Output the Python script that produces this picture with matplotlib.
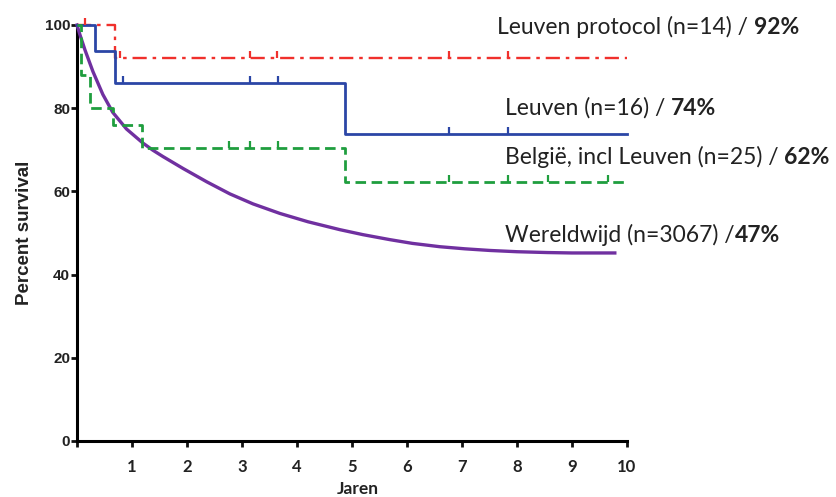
import numpy as np
import matplotlib
matplotlib.use("Agg")
import matplotlib.pyplot as plt

# Kaplan-Meier steps (years, % survival)
red_t = [0, 0.69, 10.0]
red_s = [100, 92, 92]
red_cens = [0.15, 0.78, 3.15, 3.64, 6.76, 7.84]

blue_t = [0, 0.33, 0.69, 4.87, 10.0]
blue_s = [100, 93.8, 86, 73.8, 73.8]
blue_cens = [0.84, 3.15, 3.65, 6.76, 7.84]

green_t = [0, 0.07, 0.24, 0.66, 1.18, 4.87, 10.0]
green_s = [100, 88, 80, 76, 70.5, 62.3, 62.3]
green_cens = [2.77, 3.15, 3.65, 6.76, 7.84, 8.57, 9.66]

# worldwide curve
purple_t = [0, 0.05, 0.145, 0.29, 0.47, 0.65, 0.9, 1.2, 1.38, 1.56, 1.93, 2.36, 2.78,
            3.2, 3.69, 4.2, 4.78, 5.2, 5.69, 6.1, 6.6, 7.05, 7.51, 8.0, 8.55, 9.0, 9.78]
purple_s = [100, 97.8, 94.0, 88.8, 83.3, 79.0, 75.0, 71.6, 69.9, 68.4, 65.5, 62.3, 59.4,
            57.0, 54.7, 52.7, 50.8, 49.6, 48.4, 47.5, 46.7, 46.2, 45.8, 45.5, 45.3, 45.2, 45.2]

labels = [("Leuven protocol (n=14) /", "92%", 7.64, 99.5, 4),
          ("Leuven (n=16) /", "74%", 7.78, 80.0, 4),
          ("België, incl Leuven (n=25) /", "62%", 7.78, 68.3, 4),
          ("Wereldwijd (n=3067) /", "47%", 7.78, 49.6, 0)]

c_red = '#f0302c'
c_blue = '#2b46a6'
c_green = '#1f9e3e'
c_purple = '#7030a0'
txt = '#222222'


def cens_y(t, s, c):
    idx = np.searchsorted(t, c, side='right') - 1
    return np.array(s)[idx]


fig = plt.figure(figsize=(8.37, 4.97), dpi=100)
ax = fig.add_axes([0.092, 0.1127, 0.657, 0.837])

ax.plot(purple_t, purple_s, color=c_purple, lw=2.4, clip_on=False, zorder=3,
        solid_joinstyle='round')
ax.step(red_t, red_s, where='post', color=c_red, lw=1.7, clip_on=False,
        dashes=(6, 2.5, 1.5, 2.5), zorder=4)
ax.step(blue_t, blue_s, where='post', color=c_blue, lw=2.0, clip_on=False, zorder=4)
ax.step(green_t, green_s, where='post', color=c_green, lw=2.0, clip_on=False,
        dashes=(3.8, 2.0), zorder=4)

ax.plot(red_cens, cens_y(red_t, red_s, red_cens), ls='none', marker=2,
        ms=5, mew=1.6, color=c_red, clip_on=False, zorder=4)
ax.plot(blue_cens, cens_y(blue_t, blue_s, blue_cens), ls='none', marker=2,
        ms=5, mew=1.6, color=c_blue, clip_on=False, zorder=4)
ax.plot(green_cens, cens_y(green_t, green_s, green_cens), ls='none', marker=2,
        ms=5, mew=1.6, color=c_green, clip_on=False, zorder=4)

ax.set_xlim(0, 10)
ax.set_ylim(0, 100)
ax.set_xticks(range(0, 11))
ax.set_xticklabels([''] + [str(i) for i in range(1, 11)])
ax.set_yticks(range(0, 101, 20))
for sp in ['top', 'right']:
    ax.spines[sp].set_visible(False)
for sp in ['left', 'bottom']:
    ax.spines[sp].set_linewidth(2.2)
ax.tick_params(width=2, length=4, direction='out', colors='#111111')
for lab in ax.get_xticklabels():
    lab.set_fontfamily('Lato')
    lab.set_fontweight('bold')
    lab.set_fontsize(12)
    lab.set_color(txt)
for lab in ax.get_yticklabels():
    lab.set_fontfamily('Liberation Sans')
    lab.set_fontweight('bold')
    lab.set_fontsize(11)
    lab.set_color(txt)
ax.tick_params(axis='x', pad=9)
ax.tick_params(axis='y', pad=1)

ax.set_xlabel('Jaren', fontfamily='Lato', fontweight='bold', fontsize=12.5,
              color=txt)
ax.xaxis.set_label_coords(0.511, -0.097)
ax.set_ylabel('Percent survival', fontfamily='Liberation Sans', fontweight='bold',
              fontsize=13.5, color=txt, labelpad=8)

for norm, bold, x, y, gap in labels:
    t = ax.text(x, y, norm, fontfamily='Lato', fontsize=16.5, color=txt,
                va='center', ha='left', clip_on=False)
    ax.annotate(bold, xy=(1, 0), xycoords=t, xytext=(gap, 0),
                textcoords='offset points', va='bottom', ha='left',
                fontfamily='Lato', fontweight='bold', fontsize=16.5, color=txt)

fig.savefig('out.png', dpi=100)
